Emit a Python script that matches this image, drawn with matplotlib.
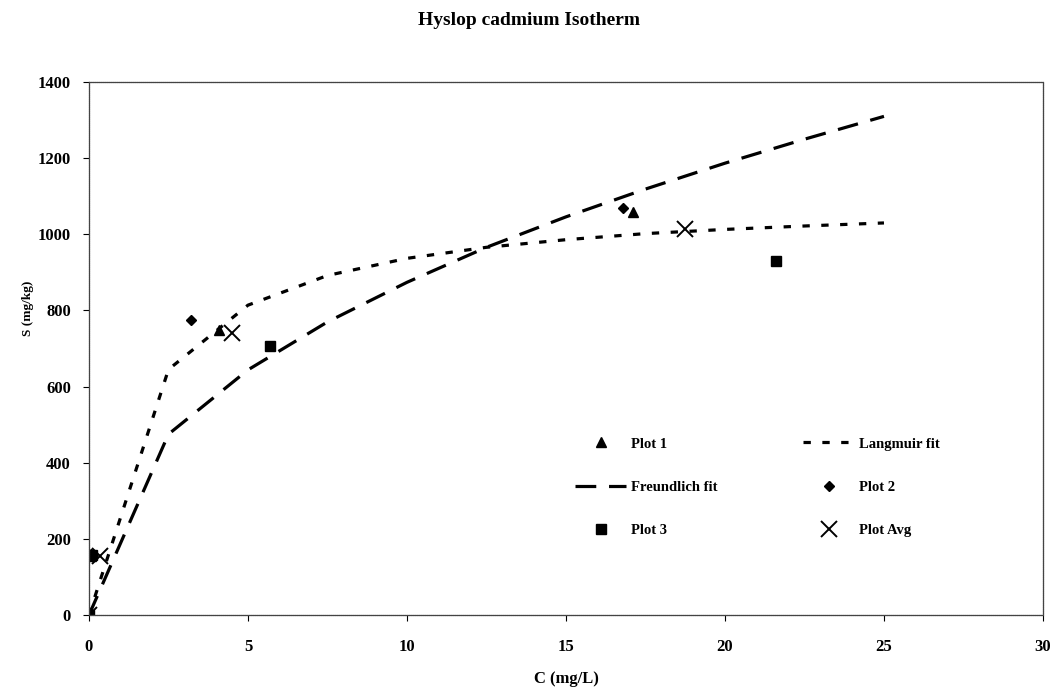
import matplotlib.pyplot as plt

plt.rcParams['font.family'] = ['Liberation Serif', 'DejaVu Serif']
plt.rcParams['font.weight'] = 'bold'

# measured points, C (mg/L) vs S (mg/kg)
plot1_c = [0, 0.05, 4.1, 17.1]
plot1_s = [0, 155, 750, 1060]
plot2_c = [0, 0.05, 3.2, 16.8]
plot2_s = [0, 160, 775, 1068]
plot3_c = [0, 0.08, 5.7, 21.6]
plot3_s = [0, 158, 707, 930]
avg_c = [0, 0.35, 4.5, 18.75]
avg_s = [0, 155, 740, 1015]

# fitted curves evaluated at fixed C steps
fit_c = [0, 2.5, 5, 7.5, 10, 12.5, 15, 17.5, 20, 22.5, 25]
langmuir_s = [0, 645, 814, 892, 937, 966, 986, 1002, 1013, 1022, 1030]
freundlich_s = [0, 475, 644, 770, 874, 966, 1046, 1119, 1187, 1250, 1310]

fig = plt.figure(figsize=(10.58, 6.9), dpi=100)
ax = fig.add_axes([0.0841, 0.1087, 0.9017, 0.7723])

lw = 2.3
lang, = ax.plot(fit_c, langmuir_s, color='black', lw=lw, dashes=(2.3, 3.6),
                label='Langmuir fit')
freu, = ax.plot(fit_c, freundlich_s, color='black', lw=lw, dashes=(6.5, 4),
                label='Freundlich fit')
p1, = ax.plot(plot1_c, plot1_s, ls='none', marker='^', ms=7, color='black', label='Plot 1')
p2, = ax.plot(plot2_c, plot2_s, ls='none', marker='D', ms=5, color='black', label='Plot 2')
p3, = ax.plot(plot3_c, plot3_s, ls='none', marker='s', ms=6.5, color='black', label='Plot 3')
pa, = ax.plot(avg_c, avg_s, ls='none', marker='x', ms=11, mew=1.4, color='black', label='Plot Avg')

ax.set_xlim(0, 30)
ax.set_ylim(0, 1400)
ax.set_xticks(range(0, 31, 5))
ax.set_yticks(range(0, 1401, 200))
ax.tick_params(direction='out', length=4, width=0.8, labelsize=12)
ax.tick_params(axis='y', pad=9)
ax.tick_params(axis='x', pad=13)
for sp in ax.spines.values():
    sp.set_linestyle((0, (1, 0.6)))
    sp.set_color('#444444')
    sp.set_linewidth(0.9)

ax.set_xlabel('C (mg/L)', fontsize=12, fontweight='bold', labelpad=12)
ax.set_ylabel('S (mg/kg)', fontsize=9.5, fontweight='bold')
ax.yaxis.set_label_coords(-0.058, 0.575)
fig.suptitle('Hyslop cadmium Isotherm', fontsize=14, fontweight='bold', y=0.983)

handles = [p1, freu, p3, lang, p2, pa]
leg = ax.legend(handles=handles, ncol=2, frameon=False, loc='upper left',
                bbox_to_anchor=(0.496, 0.358), fontsize=10.5, handlelength=3.5,
                labelspacing=2.05, columnspacing=5.9, handletextpad=0.3)

fig.savefig('out.png', dpi=100)
